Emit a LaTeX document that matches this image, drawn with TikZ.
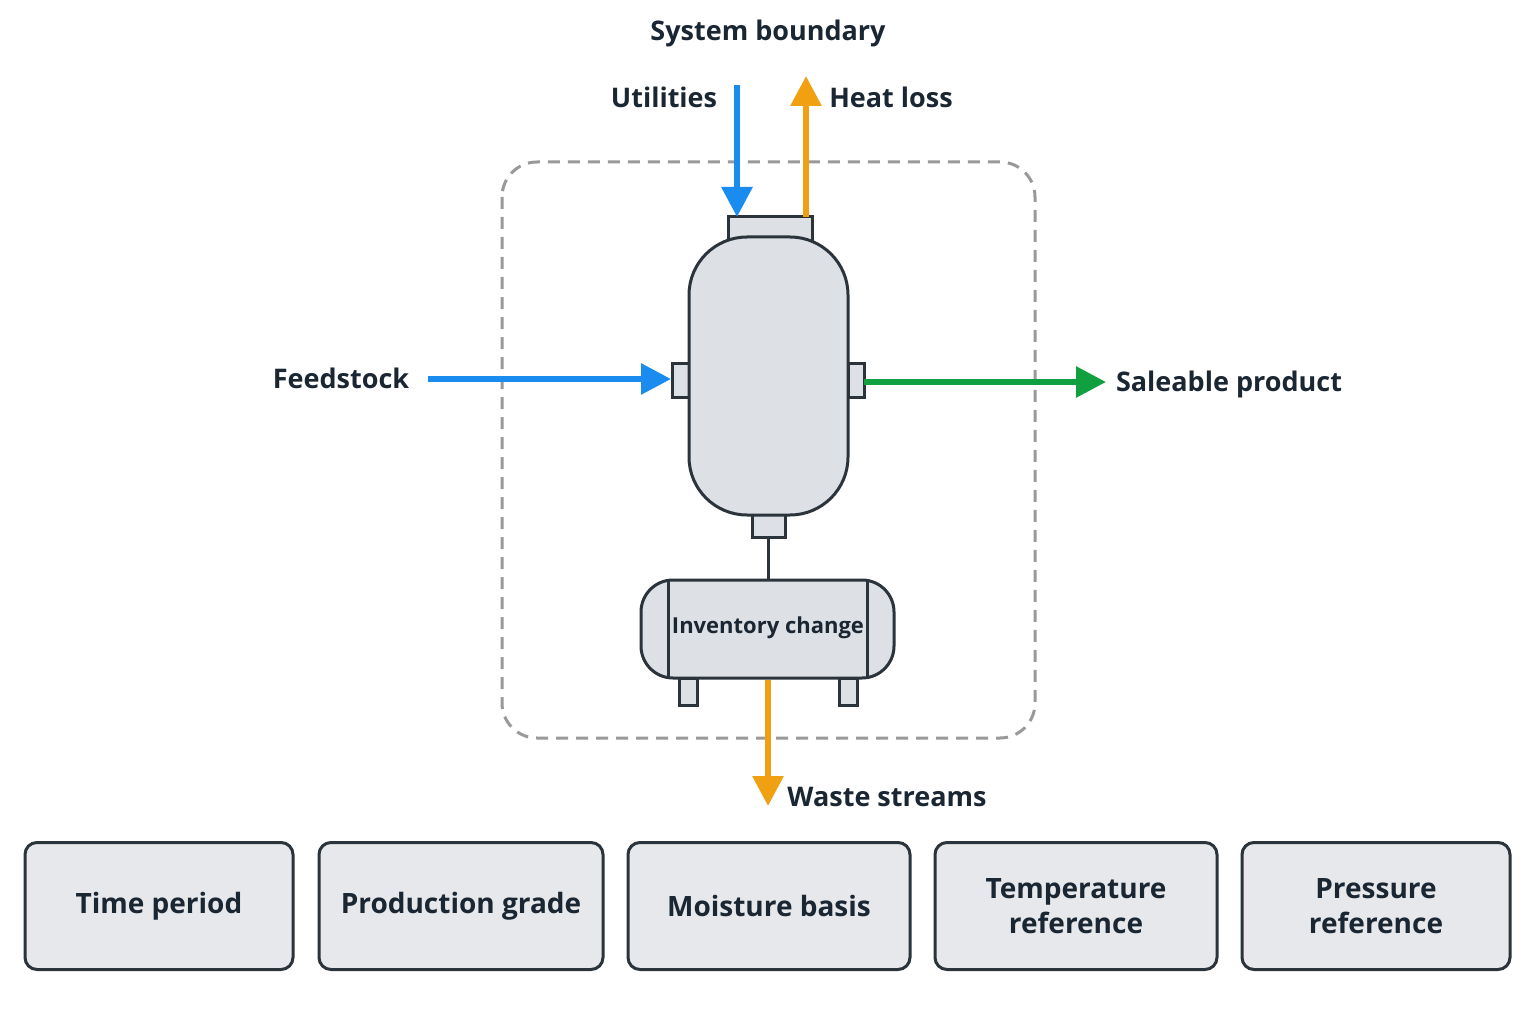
\documentclass[tikz,border=0pt]{standalone}
\usepackage{fontspec}
\setmainfont{Open Sans}
\usetikzlibrary{arrows.meta}
\definecolor{ink}{HTML}{1B2633}
\definecolor{edge}{HTML}{2B333B}
\definecolor{vfill}{HTML}{DDE0E5}
\definecolor{bfill}{HTML}{E6E8EB}
\definecolor{blu}{HTML}{1A8CF0}
\definecolor{org}{HTML}{F0A010}
\definecolor{grn}{HTML}{10A040}
\tikzset{
 lab/.style={font=\fontsize{27}{32}\selectfont\bfseries, text=ink, inner sep=0},
 flow/.style={line width=6pt, -{Triangle[length=30pt,width=30pt]}},
 part/.style={draw=edge, line width=3pt, fill=vfill},
 infobox/.style={draw=edge, line width=3pt, fill=bfill, rounded corners=12pt, minimum height=127pt, align=center, font=\fontsize{28}{35}\selectfont\bfseries, text=ink},
}
\begin{document}
\begin{tikzpicture}[x=1pt,y=-1pt]
\useasboundingbox (0,0) rectangle (1536,1024);
\fill[white] (0,0) rectangle (1536,1024);
\draw[gray!80, line width=3pt, dash pattern=on 12pt off 8pt, rounded corners=35pt] (502,162) rectangle (1035,738);
\node[lab] (sb) at (768,33) {System boundary};
% vessel
\draw[part] (728,217) rectangle (812,243);
\draw[part] (672,363) rectangle (689,397);
\draw[part] (848,363) rectangle (864,397);
\draw[part] (752,505) rectangle (785,537);
\draw[part, rounded corners=58pt] (689,237) rectangle (848,515);
\coordinate (vtl) at (737,217);
\coordinate (vtr) at (806,217);
\coordinate (vl) at (671,379);
\coordinate (vr) at (864,382);
\draw[edge, line width=3pt] (768,537) -- (768,580);
% tank
\draw[part, rounded corners=32pt] (641,580) rectangle (894,678);
\draw[edge, line width=3pt] (668,581) -- (668,677) (867,581) -- (867,677);
\node[font=\fontsize{22}{26}\selectfont\bfseries, text=ink] (inv) at (768,628) {Inventory change};
\draw[part] (679,678) rectangle (697,705);
\draw[part] (839,678) rectangle (857,705);
\coordinate (tb) at (768,680);
% flows
\coordinate (us) at (737,85);
\coordinate (he) at (806,76);
\coordinate (fs) at (428,379);
\coordinate (se) at (1106,382);
\coordinate (we) at (768,806);
\draw[flow, blu] (us) -- (vtl);
\draw[flow, org] (vtr) -- (he);
\draw[flow, blu] (fs) -- (vl);
\draw[flow, grn] (vr) -- (se);
\draw[flow, org] (tb) -- (we);
\node[lab] (ut) at (664,97) {Utilities};
\node[lab] (hl) at (891,97) {Heat loss};
\node[lab] (fe) at (341,378) {Feedstock};
\node[lab] (sp) at (1229,384) {Saleable product};
\node[lab] (ws) at (887,797) {Waste streams};
% boxes
\node[infobox, minimum width=268pt] (b1) at (159,906) {Time period};
\node[infobox, minimum width=284pt] (b2) at (461,906) {Production grade};
\node[infobox, minimum width=282pt] (b3) at (769,906) {Moisture basis};
\node[infobox, minimum width=282pt] (b4) at (1076,906) {Temperature\\reference};
\node[infobox, minimum width=268pt] (b5) at (1376,906) {Pressure\\reference};
\end{tikzpicture}
\end{document}
